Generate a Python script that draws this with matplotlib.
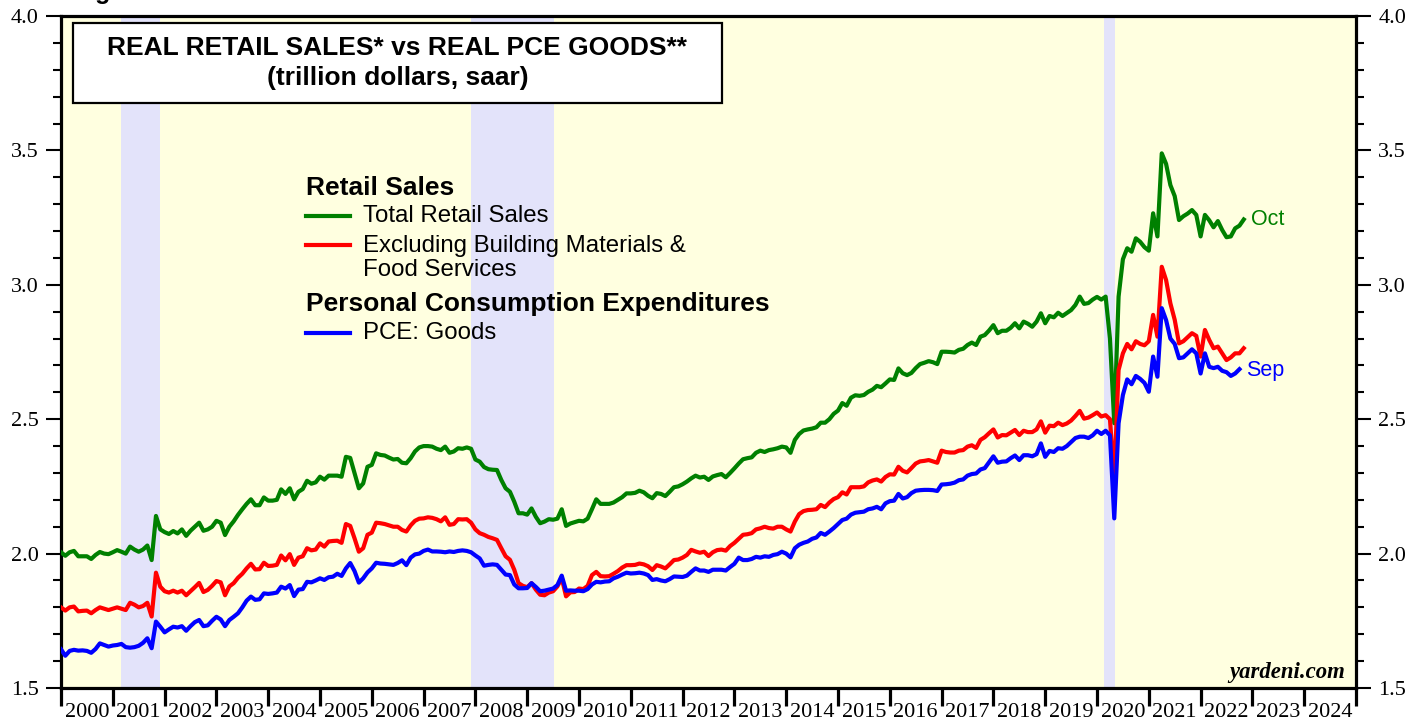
import numpy as np
import matplotlib.pyplot as plt
from matplotlib.lines import Line2D
from matplotlib.patches import Rectangle

plt.rcParams['font.family'] = ['Liberation Sans', 'DejaVu Sans']

# monthly values, trillion dollars saar (first point sits on 2000.0, one per month after)
total_sales = [
    2.005, 1.992, 2.005, 2.01, 1.99, 1.99, 1.99, 1.98, 1.995, 2.006, 2.0, 1.998,
    2.005, 2.013, 2.007, 2.0, 2.026, 2.015, 2.007, 2.015, 2.03, 1.976, 2.14, 2.09,
    2.08, 2.073, 2.084, 2.075, 2.09, 2.066, 2.085, 2.10, 2.115, 2.085, 2.09, 2.10,
    2.122, 2.115, 2.069, 2.10, 2.12, 2.144, 2.165, 2.185, 2.202, 2.18, 2.18, 2.209,
    2.197, 2.197, 2.20, 2.239, 2.222, 2.243, 2.202, 2.23, 2.24, 2.271, 2.26, 2.265,
    2.286, 2.275, 2.29, 2.29, 2.29, 2.286, 2.36, 2.356, 2.30, 2.243, 2.261, 2.323,
    2.33, 2.373, 2.367, 2.365, 2.357, 2.35, 2.352, 2.338, 2.336, 2.355, 2.38, 2.395,
    2.40, 2.40, 2.398, 2.39, 2.385, 2.398, 2.375, 2.38, 2.392, 2.39, 2.395, 2.39,
    2.35, 2.342, 2.322, 2.314, 2.312, 2.311, 2.274, 2.243, 2.23, 2.193, 2.15, 2.15,
    2.145, 2.168, 2.137, 2.113, 2.119, 2.128, 2.126, 2.13, 2.165, 2.103, 2.112, 2.117,
    2.122, 2.12, 2.13, 2.165, 2.202, 2.185, 2.185, 2.185, 2.19, 2.20, 2.21, 2.224,
    2.224, 2.226, 2.234, 2.228, 2.215, 2.206, 2.225, 2.222, 2.214, 2.23, 2.247, 2.25,
    2.258, 2.268, 2.28, 2.29, 2.283, 2.286, 2.274, 2.287, 2.292, 2.296, 2.284, 2.30,
    2.317, 2.335, 2.351, 2.355, 2.358, 2.375, 2.383, 2.378, 2.385, 2.388, 2.392, 2.398,
    2.395, 2.375, 2.423, 2.445, 2.458, 2.462, 2.465, 2.47, 2.487, 2.487, 2.50, 2.52,
    2.532, 2.56, 2.55, 2.58, 2.589, 2.587, 2.59, 2.602, 2.61, 2.624, 2.619, 2.633,
    2.648, 2.646, 2.689, 2.671, 2.664, 2.672, 2.69, 2.705, 2.71, 2.716, 2.712, 2.705,
    2.751, 2.751, 2.75, 2.748, 2.758, 2.762, 2.776, 2.785, 2.776, 2.807, 2.813, 2.83,
    2.85, 2.82, 2.829, 2.829, 2.84, 2.857, 2.838, 2.863, 2.855, 2.844, 2.863, 2.894,
    2.857, 2.884, 2.879, 2.896, 2.884, 2.895, 2.906, 2.925, 2.956, 2.929, 2.932, 2.945,
    2.955, 2.945, 2.956, 2.80, 2.485, 2.956, 3.095, 3.136, 3.123, 3.173, 3.16, 3.14,
    3.127, 3.266, 3.18, 3.489, 3.45, 3.371, 3.33, 3.241, 3.255, 3.265, 3.278, 3.26,
    3.18, 3.26, 3.24, 3.214, 3.237, 3.204, 3.177, 3.18, 3.21, 3.22, 3.243,
]

ex_building_food = [
    1.80, 1.788, 1.80, 1.803, 1.785, 1.787, 1.788, 1.778, 1.79, 1.80, 1.795, 1.79,
    1.795, 1.80, 1.795, 1.79, 1.817, 1.81, 1.80, 1.805, 1.817, 1.766, 1.929, 1.877,
    1.86, 1.855, 1.862, 1.855, 1.862, 1.845, 1.86, 1.875, 1.891, 1.857, 1.865, 1.88,
    1.898, 1.893, 1.845, 1.878, 1.89, 1.91, 1.925, 1.945, 1.962, 1.941, 1.942, 1.966,
    1.954, 1.955, 1.958, 1.993, 1.975, 1.998, 1.958, 1.985, 1.99, 2.02, 2.012, 2.015,
    2.038, 2.026, 2.045, 2.047, 2.048, 2.04, 2.11, 2.103, 2.057, 2.007, 2.02, 2.07,
    2.078, 2.115, 2.113, 2.11, 2.105, 2.10, 2.10, 2.088, 2.082, 2.105, 2.122, 2.13,
    2.131, 2.135, 2.133, 2.128, 2.12, 2.135, 2.107, 2.11, 2.128, 2.127, 2.128, 2.115,
    2.09, 2.076, 2.07, 2.062, 2.057, 2.051, 2.02, 1.99, 1.977, 1.94, 1.89, 1.88,
    1.875, 1.89, 1.866, 1.847, 1.845, 1.855, 1.86, 1.878, 1.909, 1.841, 1.856, 1.857,
    1.87, 1.868, 1.88, 1.92, 1.932, 1.916, 1.915, 1.916, 1.925, 1.935, 1.948, 1.957,
    1.957, 1.958, 1.963, 1.96, 1.953, 1.939, 1.957, 1.952, 1.945, 1.96, 1.976, 1.978,
    1.985, 1.995, 2.014, 2.008, 2.003, 2.007, 1.991, 2.005, 2.013, 2.015, 2.011, 2.028,
    2.04, 2.055, 2.07, 2.072, 2.076, 2.09, 2.094, 2.10, 2.095, 2.093, 2.10, 2.10,
    2.09, 2.082, 2.119, 2.147, 2.158, 2.162, 2.163, 2.165, 2.181, 2.173, 2.19, 2.203,
    2.21, 2.228, 2.22, 2.247, 2.247, 2.247, 2.25, 2.265, 2.272, 2.276, 2.268, 2.285,
    2.295, 2.294, 2.323, 2.308, 2.302, 2.318, 2.335, 2.343, 2.345, 2.348, 2.343, 2.338,
    2.383, 2.378, 2.376, 2.376, 2.383, 2.385, 2.398, 2.403, 2.393, 2.423, 2.433, 2.448,
    2.462, 2.432, 2.441, 2.44, 2.45, 2.46, 2.441, 2.457, 2.452, 2.452, 2.462, 2.492,
    2.45, 2.476, 2.474, 2.487, 2.478, 2.484, 2.495, 2.512, 2.531, 2.502, 2.506, 2.515,
    2.525, 2.51, 2.515, 2.50, 2.28, 2.683, 2.745, 2.78, 2.76, 2.79, 2.78, 2.775,
    2.79, 2.888, 2.807, 3.067, 3.018, 2.931, 2.87, 2.782, 2.79, 2.805, 2.82, 2.81,
    2.733, 2.832, 2.795, 2.764, 2.77, 2.745, 2.72, 2.73, 2.745, 2.745, 2.764,
]

pce_goods = [
    1.644, 1.62, 1.638, 1.642, 1.639, 1.64, 1.638, 1.631, 1.645, 1.666, 1.66, 1.654,
    1.658, 1.66, 1.664, 1.652, 1.65, 1.652, 1.657, 1.668, 1.685, 1.648, 1.747, 1.728,
    1.707, 1.718, 1.728, 1.725, 1.73, 1.713, 1.73, 1.745, 1.753, 1.73, 1.733, 1.75,
    1.765, 1.755, 1.73, 1.753, 1.765, 1.778, 1.80, 1.825, 1.84, 1.828, 1.83, 1.852,
    1.85, 1.852, 1.855, 1.877, 1.87, 1.883, 1.842, 1.866, 1.868, 1.895, 1.893, 1.90,
    1.908, 1.902, 1.912, 1.914, 1.925, 1.917, 1.945, 1.965, 1.935, 1.892, 1.908, 1.93,
    1.945, 1.966, 1.963, 1.962, 1.96, 1.958, 1.965, 1.975, 1.957, 1.985, 1.997, 2.0,
    2.01, 2.015, 2.008, 2.008, 2.007, 2.005, 2.008, 2.006, 2.01, 2.012, 2.01, 2.005,
    1.993, 1.982, 1.955, 1.958, 1.96, 1.958, 1.94, 1.922, 1.92, 1.885, 1.871, 1.871,
    1.872, 1.89, 1.876, 1.86, 1.862, 1.866, 1.87, 1.883, 1.918, 1.862, 1.863, 1.862,
    1.862, 1.86, 1.868, 1.885, 1.895, 1.893, 1.896, 1.897, 1.908, 1.914, 1.922, 1.929,
    1.926, 1.927, 1.929, 1.926, 1.92, 1.902, 1.905, 1.90, 1.897, 1.905, 1.915, 1.914,
    1.913, 1.918, 1.932, 1.945, 1.937, 1.937, 1.932, 1.94, 1.94, 1.94, 1.937, 1.95,
    1.962, 1.985, 1.976, 1.976, 1.98, 1.988, 1.985, 1.99, 1.988, 1.995, 1.998, 2.007,
    2.0, 1.986, 2.02, 2.033, 2.04, 2.045, 2.055, 2.06, 2.077, 2.07, 2.082, 2.095,
    2.11, 2.125, 2.13, 2.145, 2.152, 2.154, 2.156, 2.165, 2.168, 2.174, 2.165, 2.187,
    2.195, 2.197, 2.222, 2.205, 2.21, 2.225, 2.234, 2.236, 2.237, 2.237, 2.236, 2.233,
    2.257, 2.258, 2.26, 2.264, 2.273, 2.276, 2.29, 2.296, 2.298, 2.313, 2.318, 2.34,
    2.362, 2.338, 2.342, 2.343, 2.355, 2.365, 2.348, 2.366, 2.366, 2.362, 2.37, 2.41,
    2.36, 2.382, 2.378, 2.392, 2.39, 2.40, 2.415, 2.43, 2.435, 2.435, 2.43, 2.44,
    2.457, 2.445, 2.457, 2.44, 2.131, 2.485, 2.59, 2.648, 2.63, 2.661, 2.65, 2.635,
    2.602, 2.733, 2.658, 2.913, 2.869, 2.80, 2.78, 2.727, 2.73, 2.745, 2.76, 2.745,
    2.67, 2.745, 2.695, 2.69, 2.695, 2.68, 2.675, 2.661, 2.67, 2.686,
]

recessions = [(2001.16, 2001.91), (2007.91, 2009.51), (2020.14, 2020.34)]
years = list(range(2000, 2025))

t_sales = 2000 + np.arange(len(total_sales)) / 12
t_pce = 2000 + np.arange(len(pce_goods)) / 12

fig = plt.figure(figsize=(14.27, 7.19), dpi=100)
ax = fig.add_axes([61 / 1427, 31 / 719, 1295 / 1427, 672 / 719])
ax.set_facecolor('#ffffe0')

for a, b in recessions:
    ax.axvspan(a, b, color='#e3e3fa', lw=0, zorder=0)

ax.plot(t_sales, total_sales, color='#008000', lw=3, zorder=3)
ax.plot(t_sales, ex_building_food, color='#ff0000', lw=3, zorder=3)
ax.plot(t_pce, pce_goods, color='#0000ff', lw=3, zorder=3)

ax.set_xlim(2000, 2025)
ax.set_ylim(1.5, 4.0)

for s in ax.spines.values():
    s.set_linewidth(2.3)
    s.set_color('black')

# y axis: both sides, serif labels
ax.set_yticks(np.arange(1.5, 4.01, 0.5))
ax.set_yticks(np.arange(1.5, 4.01, 0.1), minor=True)
ax.set_yticklabels([f'{v:.1f}' for v in np.arange(1.5, 4.01, 0.5)])
ax.tick_params(axis='y', which='major', direction='out', length=11, width=1.5,
               left=True, right=True, labelleft=True, labelright=True,
               labelsize=16, pad=5)
ax.tick_params(axis='y', which='minor', direction='out', length=6, width=1.5,
               left=True, right=True)

# x axis: ticks at year boundaries, labels centred in between
ax.set_xticks(list(range(2000, 2026)))
ax.set_xticklabels([])
ax.set_xticks([y + 0.5 for y in years], minor=True)
ax.set_xticklabels([str(y) for y in years], minor=True)
ax.tick_params(axis='x', which='major', direction='out', length=13, width=2.3)
ax.tick_params(axis='x', which='minor', length=0, labelsize=16, pad=10.5)

for lab in ax.get_yticklabels() + ax.get_xticklabels(minor=True):
    lab.set_fontfamily('Liberation Serif')

# title box
ax.add_patch(Rectangle((0.0093, 0.8705), 0.5011, 0.1191, transform=ax.transAxes,
                       facecolor='white', edgecolor='black', lw=1.6, zorder=5))
ax.text(0.2598, 0.953, 'REAL RETAIL SALES* vs REAL PCE GOODS**', transform=ax.transAxes,
        ha='center', va='center', fontsize=19, fontweight='bold', zorder=6)
ax.text(0.2598, 0.9077, '(trillion dollars, saar)', transform=ax.transAxes,
        ha='center', va='center', fontsize=19, fontweight='bold', zorder=6)

# legend
lx0, lx1, tx = 0.1892, 0.2232, 0.2332
ax.text(lx0, 0.744, 'Retail Sales', transform=ax.transAxes, ha='left', va='center',
        fontsize=19, fontweight='bold')
ax.add_line(Line2D([lx0, lx1], [0.7024, 0.7024], transform=ax.transAxes, color='#008000', lw=3))
ax.text(tx, 0.7024, 'Total Retail Sales', transform=ax.transAxes, ha='left', va='center',
        fontsize=17.3)
ax.add_line(Line2D([lx0, lx1], [0.6592, 0.6592], transform=ax.transAxes, color='#ff0000', lw=3))
ax.text(tx, 0.6577, 'Excluding Building Materials &', transform=ax.transAxes, ha='left',
        va='center', fontsize=17.3)
ax.text(tx, 0.622, 'Food Services', transform=ax.transAxes, ha='left', va='center',
        fontsize=17.3)
ax.text(lx0, 0.5714, 'Personal Consumption Expenditures', transform=ax.transAxes, ha='left',
        va='center', fontsize=19, fontweight='bold')
ax.add_line(Line2D([lx0, lx1], [0.5283, 0.5283], transform=ax.transAxes, color='#0000ff', lw=3))
ax.text(tx, 0.5283, 'PCE: Goods', transform=ax.transAxes, ha='left', va='center',
        fontsize=17.3)

# end labels
ax.text(2022.98, total_sales[-1], 'Oct', color='#008000', ha='left', va='center', fontsize=15.5)
ax.text(2022.88, pce_goods[-1] - 0.005, 'Sep', color='#0000ff', ha='left', va='center',
        fontsize=15.5)

ax.text(0.9915, 0.0238, 'yardeni.com', transform=ax.transAxes, ha='right', va='center',
        fontsize=16.4, fontweight='bold', fontstyle='italic', fontfamily='Liberation Serif')

fig.text(73 / 1427, 1 + 1 / 719, 'Figure 4.', ha='left', va='baseline', fontsize=18,
         fontweight='bold')

fig.savefig('out.png', dpi=100)
